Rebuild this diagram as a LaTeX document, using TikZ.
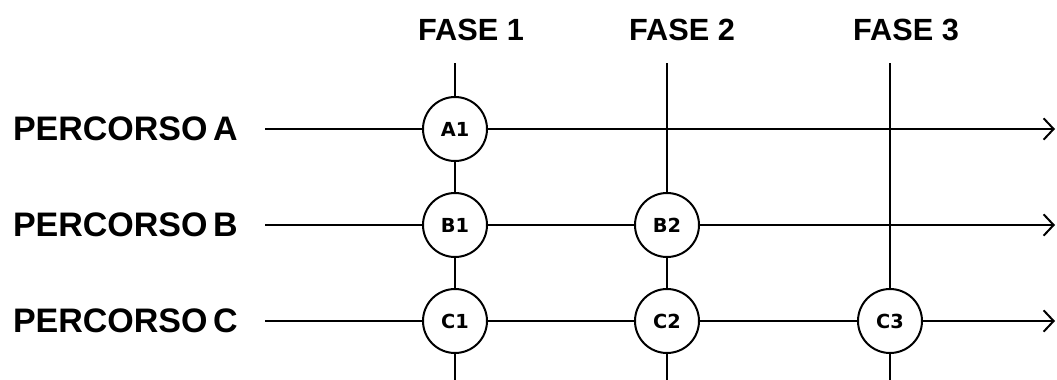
\documentclass[tikz,border=0pt]{standalone}
\usepackage{fontspec}
\setmainfont{Liberation Sans}
\newfontfamily\circfont{DejaVu Sans}
\usetikzlibrary{arrows.meta}
\begin{document}
\begin{tikzpicture}[x=0.75pt,y=-0.75pt,
  line width=1.5pt,
  rowlabel/.style={anchor=base west,inner sep=0pt,font=\bfseries\fontsize{25.5}{30}\selectfont},
  phaselabel/.style={anchor=base,inner sep=0pt,font=\bfseries\fontsize{23}{28}\selectfont},
  stepnode/.style={circle,draw,line width=1.5pt,minimum size=48pt,inner sep=0pt,
    font=\circfont\bfseries\fontsize{14.5}{17}\selectfont},
  flow/.style={-{Straight Barb[length=7.5pt,width=16pt,line width=1.5pt]}}
]
\useasboundingbox (0,0) rectangle (1057,379);
% labels
\node[rowlabel] (la) at (12,140) {PERCORSO\,A};
\node[rowlabel] (lb) at (12,236) {PERCORSO\,B};
\node[rowlabel] (lc) at (12,332) {PERCORSO\,C};
\node[phaselabel] (f1) at (471,40) {FASE 1};
\node[phaselabel] (f2) at (682,40) {FASE 2};
\node[phaselabel] (f3) at (906,40) {FASE 3};
% circles
\node[stepnode] (A1) at (455,129) {A1};
\node[stepnode] (B1) at (455,225) {B1};
\node[stepnode] (C1) at (455,321) {C1};
\node[stepnode] (B2) at (667,225) {B2};
\node[stepnode] (C2) at (667,321) {C2};
\node[stepnode] (C3) at (890,321) {C3};
% coordinates
\coordinate (sA) at (265,129);
\coordinate (sB) at (265,225);
\coordinate (sC) at (265,321);
\coordinate (eA) at (1055,129);
\coordinate (eB) at (1055,225);
\coordinate (eC) at (1055,321);
\coordinate (t1) at (455,63);
\coordinate (t2) at (667,63);
\coordinate (t3) at (890,63);
\coordinate (b1) at (455,380);
\coordinate (b2) at (667,380);
\coordinate (b3) at (890,380);
% horizontal
\draw (sA) -- (A1);
\draw[flow] (A1) -- (eA);
\draw (sB) -- (B1) -- (B2);
\draw[flow] (B2) -- (eB);
\draw (sC) -- (C1) -- (C2) -- (C3);
\draw[flow] (C3) -- (eC);
% vertical
\draw (t1) -- (A1) -- (B1) -- (C1) -- (b1);
\draw (t2) -- (B2) -- (C2) -- (b2);
\draw (t3) -- (C3) -- (b3);
\end{tikzpicture}
\end{document}
